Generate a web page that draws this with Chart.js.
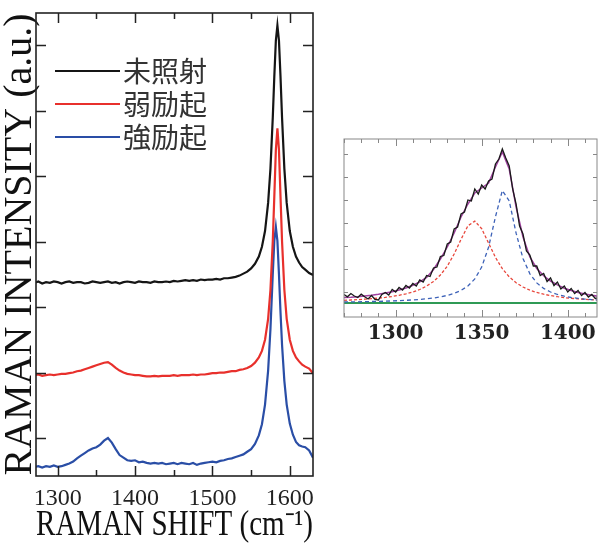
<!DOCTYPE html>
<html>
<head>
<meta charset="utf-8">
<script src="https://cdn.jsdelivr.net/npm/chart.js@4.4.0/dist/chart.umd.min.js"></script>
<style>
  html, body { margin: 0; padding: 0; background: #fff; }
  body { width: 598px; height: 543px; position: relative; overflow: hidden; }
  #main { position: absolute; left: 0; top: 0; }
  #inset { position: absolute; left: 330px; top: 130px; }
</style>
</head>
<body>
<canvas id="main" width="330" height="543"></canvas>
<canvas id="inset" width="268" height="210"></canvas>
<script>
// main spectrum: Raman shift (cm-1)
const shiftX = [1270,1275,1280,1285,1290,1295,1300,1305,1310,1315,1320,1325,1330,1335,1340,1345,1350,1355,1360,1365,
  1370,1375,1380,1385,1390,1395,1400,1405,1410,1415,1420,1425,1430,1435,1440,1445,1450,1455,1460,1465,
  1470,1475,1480,1485,1490,1495,1500,1505,1510,1515,1520,1525,1530,1535,1540,1545,1550,1555,
  1560,1564,1568,1572,1575,1578,1580,1582,1584,1586,1588,1590,1593,1596,1600,1604,1608,1612,1616,1620,1625,1630];

const unirradiated = [2.37,2.39,2.36,2.38,2.37,2.39,2.38,2.36,2.38,2.39,2.37,2.38,2.38,2.36,2.37,2.39,2.38,2.37,2.38,2.39,
  2.37,2.38,2.36,2.38,2.39,2.38,2.37,2.39,2.38,2.38,2.37,2.39,2.38,2.38,2.39,2.38,2.40,2.39,2.40,2.41,
  2.40,2.41,2.40,2.42,2.41,2.42,2.42,2.43,2.42,2.44,2.44,2.45,2.46,2.48,2.51,2.54,2.59,2.66,
  2.77,2.92,3.16,3.59,4.11,4.89,5.52,6.07,6.30,6.07,5.52,4.89,4.11,3.59,3.16,2.92,2.77,2.68,2.61,2.57,2.52,2.49];

const weakExc = [0.96,0.97,0.95,0.96,0.97,0.96,0.97,0.98,0.98,0.99,1.00,1.02,1.03,1.05,1.07,1.09,1.11,1.13,1.15,1.16,
  1.12,1.07,1.03,1.00,0.98,0.97,0.96,0.96,0.95,0.94,0.94,0.95,0.94,0.95,0.95,0.95,0.96,0.95,0.96,0.96,
  0.96,0.97,0.96,0.97,0.97,0.98,0.99,0.99,1.00,1.00,1.01,1.02,1.02,1.04,1.05,1.07,1.10,1.15,
  1.23,1.33,1.50,1.82,2.26,3.00,3.69,4.40,4.73,4.40,3.69,3.00,2.26,1.82,1.50,1.33,1.23,1.17,1.12,1.09,1.06,0.99];

const strongExc = [-0.44,-0.43,-0.45,-0.43,-0.44,-0.42,-0.44,-0.43,-0.41,-0.39,-0.36,-0.31,-0.27,-0.23,-0.19,-0.16,-0.14,-0.10,-0.04,0.00,
  -0.07,-0.17,-0.26,-0.30,-0.34,-0.35,-0.34,-0.37,-0.36,-0.38,-0.39,-0.38,-0.39,-0.38,-0.40,-0.39,-0.38,-0.40,-0.38,-0.39,
  -0.40,-0.38,-0.41,-0.39,-0.38,-0.37,-0.36,-0.37,-0.35,-0.34,-0.32,-0.31,-0.29,-0.27,-0.25,-0.21,-0.17,-0.09,
  0.04,0.21,0.51,1.03,1.66,2.50,3.01,3.22,3.01,2.50,1.92,1.42,0.87,0.51,0.22,0.05,-0.06,-0.11,-0.13,-0.14,-0.19,-0.30];

const seriesNames = ['未照射', '弱励起', '強励起'];

// inset: D band fit
const insetFitX = [1270,1274,1278,1282,1286,1290,1294,1298,1302,1306,1310,1314,1318,1322,1326,1330,1334,1338,1342,1346,
  1350,1354,1358,1362,1366,1370,1374,1378,1382,1386,1390,1394,1398,1402,1406,1410,1414,1418];
const insetRed = [0.27,0.30,0.34,0.38,0.43,0.49,0.56,0.65,0.77,0.92,1.10,1.35,1.69,2.15,2.79,3.68,4.90,6.37,7.72,8.19,
  7.43,5.99,4.56,3.43,2.61,2.02,1.60,1.28,1.05,0.88,0.74,0.63,0.54,0.47,0.42,0.37,0.33,0.30];
const insetBlue = [0.10,0.11,0.12,0.13,0.15,0.16,0.18,0.21,0.23,0.27,0.31,0.36,0.42,0.50,0.61,0.76,0.96,1.26,1.70,2.41,
  3.59,5.57,8.62,11.25,10.21,6.98,4.45,2.92,2.01,1.46,1.10,0.85,0.68,0.55,0.46,0.39,0.33,0.29];
const insetSum = [0.55,0.58,0.63,0.70,0.78,0.88,1.00,1.13,1.30,1.50,1.78,2.11,2.55,3.35,4.40,5.60,7.00,8.60,9.90,11.00,
  11.50,12.00,13.60,15.10,13.40,9.60,6.60,4.60,3.45,2.72,2.20,1.82,1.48,1.25,1.06,0.90,0.77,0.66];
const insetDataX = [1270,1272,1274,1276,1278,1280,1282,1284,1286,1288,1290,1292,1294,1296,1298,1300,1302,1304,1306,1308,
  1310,1312,1314,1316,1318,1320,1322,1324,1326,1328,1330,1332,1334,1336,1338,1340,1342,1344,1346,1348,
  1350,1352,1354,1356,1358,1360,1362,1364,1366,1368,1370,1372,1374,1376,1378,1380,1382,1384,1386,1388,
  1390,1392,1394,1396,1398,1400,1402,1404,1406,1408,1410,1412,1414,1416,1418];
const insetData = [0.85,0.62,0.95,0.70,0.55,0.88,0.62,0.40,0.75,0.35,0.30,0.85,1.05,0.80,1.35,1.10,1.55,1.30,1.75,1.50,
  1.95,1.70,2.30,2.10,2.75,2.65,3.50,3.60,4.65,4.75,5.90,6.10,7.40,7.60,8.90,9.10,10.30,10.20,11.40,10.90,
  11.80,11.40,12.20,12.40,13.90,14.40,15.40,14.50,13.70,11.40,9.90,7.70,6.90,5.20,4.80,3.70,3.70,2.75,2.95,2.15,
  2.50,1.75,2.10,1.40,1.70,1.10,1.45,0.95,1.25,0.75,1.05,0.60,0.85,0.45,0.55];
const insetBaseX = [1270, 1418];
const insetBase = [0, 0];
const insetYTicks = [1.1, 3.4, 5.7, 8.0, 10.3, 12.6, 14.9];

function pts(xs, ys) {
  return xs.map((x, i) => ({ x: x, y: ys[i] }));
}

// box around the plot with inward ticks on all four sides
const frameTicks = {
  id: 'frameTicks',
  afterDatasetsDraw(chart, args, o) {
    const { ctx, chartArea: a } = chart;
    const x = chart.scales.x, y = chart.scales.y;
    ctx.save();
    ctx.strokeStyle = o.color;
    ctx.lineWidth = o.tickWidth;
    ctx.beginPath();
    x.ticks.forEach(t => {
      const px = Math.round(x.getPixelForValue(t.value)) + 0.5;
      const len = t.value % o.xMajor === 0 ? o.majorLen : o.minorLen;
      ctx.moveTo(px, a.bottom); ctx.lineTo(px, a.bottom - len);
      ctx.moveTo(px, a.top); ctx.lineTo(px, a.top + len);
    });
    y.ticks.forEach(t => {
      const py = Math.round(y.getPixelForValue(t.value)) + 0.5;
      ctx.moveTo(a.left, py); ctx.lineTo(a.left + o.yLen, py);
      ctx.moveTo(a.right, py); ctx.lineTo(a.right - o.yLen, py);
    });
    ctx.stroke();
    ctx.lineWidth = o.width;
    ctx.strokeRect(a.left, a.top, a.right - a.left, a.bottom - a.top);
    ctx.restore();
  }
};

const inlineLegend = {
  id: 'inlineLegend',
  afterDatasetsDraw(chart, args, o) {
    if (!o.show) return;
    const { ctx, chartArea: a } = chart;
    ctx.save();
    ctx.font = o.font;
    ctx.textBaseline = 'middle';
    chart.data.datasets.forEach((ds, i) => {
      const yy = a.top + o.top + i * o.gap;
      ctx.strokeStyle = ds.borderColor;
      ctx.lineWidth = 2;
      ctx.beginPath();
      ctx.moveTo(a.left + o.left, yy);
      ctx.lineTo(a.left + o.left + o.len, yy);
      ctx.stroke();
      ctx.fillStyle = o.color;
      ctx.fillText(ds.label, a.left + o.left + o.len + 3, yy);
    });
    ctx.restore();
  }
};

const serif = '"Liberation Serif", "Times New Roman", serif';

const mainChart = new Chart(document.getElementById('main'), {
  type: 'line',
  data: {
    datasets: [
      { label: seriesNames[0], data: pts(shiftX, unirradiated), borderColor: '#151515', borderWidth: 2.2 },
      { label: seriesNames[1], data: pts(shiftX, weakExc), borderColor: '#e8302c', borderWidth: 2.2 },
      { label: seriesNames[2], data: pts(shiftX, strongExc), borderColor: '#2a4ea6', borderWidth: 2.2 }
    ]
  },
  options: {
    responsive: false,
    animation: false,
    devicePixelRatio: 1,
    elements: { point: { radius: 0 }, line: { tension: 0 } },
    layout: { padding: { top: 13, right: 17, left: 0, bottom: 0 } },
    plugins: {
      legend: { display: false },
      tooltip: { enabled: false },
      frameTicks: { color: '#222', width: 1.6, tickWidth: 1.5, majorLen: 10, minorLen: 6, yLen: 10, xMajor: 100 },
      inlineLegend: { show: true, font: '28px "Noto Sans CJK JP"', color: '#333', top: 58, gap: 33, left: 19, len: 65 }
    },
    scales: {
      x: {
        type: 'linear', min: 1272, max: 1630,
        grid: { display: false }, border: { display: false },
        ticks: {
          stepSize: 50, includeBounds: false, autoSkip: false, maxRotation: 0, padding: 0,
          color: '#222', font: { family: serif, size: 24 },
          callback: v => (v % 100 === 0 ? v : '')
        },
        title: { display: true, text: 'RAMAN SHIFT (cm⁻¹)', color: '#111', font: { family: serif, size: 35, lineHeight: 1 }, padding: { top: 0, bottom: 0 } },
        afterFit: s => { s.height = 67; }
      },
      y: {
        min: -0.58, max: 6.49,
        grid: { display: false }, border: { display: false },
        ticks: { display: false, stepSize: 1, includeBounds: false },
        title: { display: true, text: 'RAMAN INTENSITY (a.u.)', color: '#111', font: { family: serif, size: 40, lineHeight: 1 }, padding: 0 },
        afterFit: s => { s.width = 36; }
      }
    }
  },
  plugins: [frameTicks, inlineLegend]
});

const insetChart = new Chart(document.getElementById('inset'), {
  type: 'line',
  data: {
    datasets: [
      { label: 'data', data: pts(insetDataX, insetData), borderColor: '#1a1a1a', borderWidth: 1.3 },
      { label: 'fit', data: pts(insetFitX, insetSum), borderColor: '#a040a0', borderWidth: 1.5 },
      { label: 'G', data: pts(insetFitX, insetBlue), borderColor: '#3d62b8', borderWidth: 1.3, borderDash: [4, 3] },
      { label: 'D', data: pts(insetFitX, insetRed), borderColor: '#e8473c', borderWidth: 1.3, borderDash: [3, 2] },
      { label: 'base', data: pts(insetBaseX, insetBase), borderColor: '#2f9a55', borderWidth: 2 }
    ]
  },
  options: {
    responsive: false,
    animation: false,
    devicePixelRatio: 1,
    elements: { point: { radius: 0 }, line: { tension: 0 } },
    layout: { padding: { top: 9, right: 1, left: 0, bottom: 0 } },
    plugins: {
      legend: { display: false },
      tooltip: { enabled: false },
      frameTicks: { color: '#888', width: 1, tickWidth: 1, majorLen: 7, minorLen: 4, yLen: 4, xMajor: 50 },
      inlineLegend: { show: false }
    },
    scales: {
      x: {
        type: 'linear', min: 1270, max: 1417,
        grid: { display: false }, border: { display: false },
        ticks: {
          stepSize: 10, includeBounds: false, autoSkip: false, maxRotation: 0, padding: -3,
          color: '#222', font: { family: '"DejaVu Serif", serif', size: 20, weight: 'bold' },
          callback: v => (v % 50 === 0 ? v : '')
        },
        afterFit: s => { s.height = 23; }
      },
      y: {
        min: -1.4, max: 16.4,
        grid: { display: false }, border: { display: false },
        ticks: { display: false },
        afterBuildTicks: s => { s.ticks = insetYTicks.map(v => ({ value: v })); },
        afterFit: s => { s.width = 14; }
      }
    }
  },
  plugins: [frameTicks, inlineLegend]
});
</script>
</body>
</html>
